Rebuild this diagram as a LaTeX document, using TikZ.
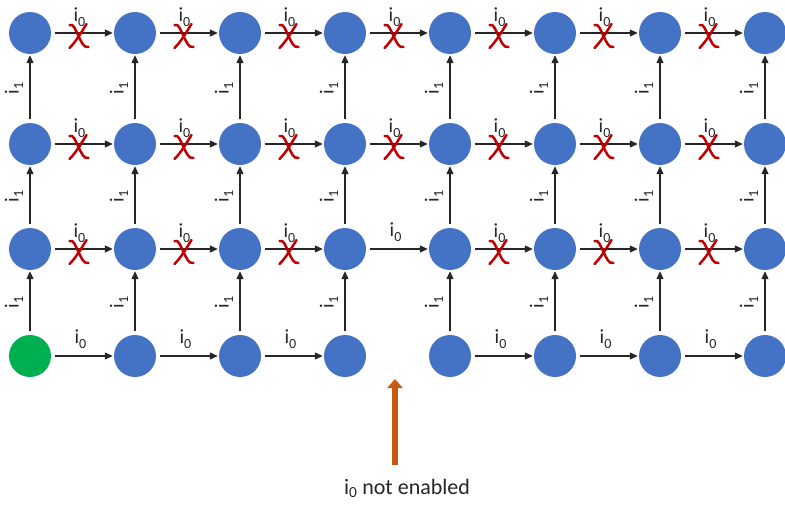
\documentclass[tikz,border=0pt]{standalone}
\usepackage{fontspec}
\setmainfont{Carlito}
\usetikzlibrary{arrows.meta,calc}
\definecolor{nodeblue}{HTML}{4472C4}
\definecolor{nodegreen}{HTML}{00B050}
\definecolor{xred}{HTML}{C00000}
\definecolor{orangearrow}{HTML}{C55A11}
\newcommand{\isub}[1]{i\raisebox{-0.22em}{\fontsize{14}{14}\selectfont #1}}
\begin{document}
\begin{tikzpicture}[x=1pt,y=-1pt,
  state/.style={circle, fill=nodeblue, minimum size=42pt, inner sep=0pt},
  st-1-4/.style={fill=nodegreen},
  trans/.style={draw=black!85, line width=1.1pt, -{Triangle[length=8pt,width=7pt]}, shorten <=3.5pt, shorten >=1pt},
  lbl/.style={font=\fontsize{20}{22}\selectfont, text=black!85, inner sep=0pt},
  redx/.pic={
    \draw[xred, line width=2.5pt, line cap=round]
      (-9,-11) .. controls (-5,-13) and (-3,-6) .. (0,0) .. controls (3,6) and (5,12) .. (10,11);
    \draw[xred, line width=2.5pt, line cap=round]
      (8,-12) .. controls (3,-4) and (-2,5) .. (-9,12);
  }]
\useasboundingbox (0,0) rectangle (785,504);
% nodes
\foreach \c/\x in {1/30,2/135,3/240,4/345,5/450,6/555,7/660,8/765}
  \foreach \r/\y in {1/33,2/144,3/249,4/356}
    \node[state, st-\c-\r/.try] (n-\c-\r) at (\x,\y) {};
% crossed horizontal transitions
\foreach \r/\cl in {1/{1,2,3,4,5,6,7},2/{1,2,3,4,5,6,7},3/{1,2,3,5,6,7}}
  \foreach \c in \cl {
    \pgfmathtruncatemacro{\d}{\c+1}
    \draw[trans] (n-\c-\r) -- (n-\d-\r);
    \node[lbl] (h-\c-\r) at ($(n-\c-\r)!0.5!(n-\d-\r)+(-3,-16)$) {\isub{0}};
    \pic at ($(n-\c-\r)!0.5!(n-\d-\r)+(-4,3)$) {redx};
  }
% plain horizontal transitions
\foreach \r/\cl in {3/{4},4/{1,2,3,5,6,7}}
  \foreach \c in \cl {
    \pgfmathtruncatemacro{\d}{\c+1}
    \draw[trans] (n-\c-\r) -- (n-\d-\r);
    \node[lbl] (h-\c-\r) at ($(n-\c-\r)!0.5!(n-\d-\r)+(-2,-17)$) {\isub{0}};
  }
% vertical transitions
\foreach \c in {1,...,8}
  \foreach \r/\s in {4/3,3/2,2/1} {
    \draw[trans] (n-\c-\r) -- (n-\c-\s);
    \node[lbl, rotate=90] (v-\c-\r) at ($(n-\c-\r)!0.5!(n-\c-\s)+(-16,0)$) {\isub{1}};
  }
% note
\coordinate (oa-start) at (395,465);
\coordinate (oa-tip) at (395,379);
\draw[orangearrow, line width=6.5pt, -{Triangle[length=9pt,width=15pt]}] (oa-start) -- (oa-tip);
\node[font=\fontsize{22}{24}\selectfont, text=black!85, inner sep=0pt] (note) at (407,488) {i\textsubscript{0} not enabled};
\end{tikzpicture}
\end{document}
